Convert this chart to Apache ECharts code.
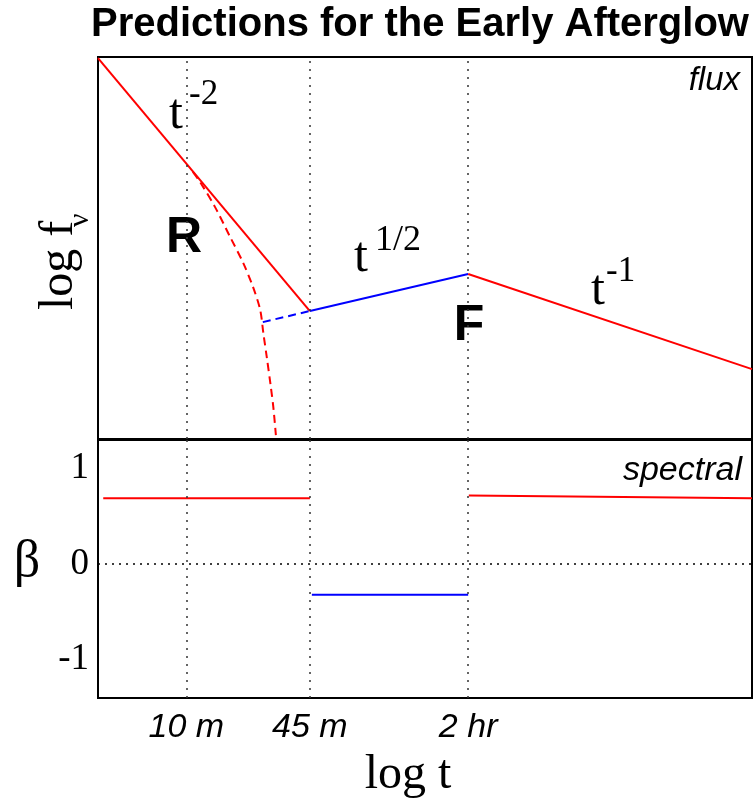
<!DOCTYPE html>
<html>
<head>
<meta charset="utf-8">
<script src="https://cdn.jsdelivr.net/npm/echarts@6/dist/echarts.min.js"></script>
<style>
  html, body { margin: 0; padding: 0; background: #fff; }
  #chart { width: 755px; height: 802px; }
</style>
</head>
<body>
<div id="chart"></div>
<script>
(function () {
  // log t runs 0..100 across the panels (schematic), log f runs 0..100
  const tickValues = [13.5, 32.4, 56.6]
  const tickLabels = ['10 m', '45 m', '2 hr']
  const betaTicks = [-1, 0, 1]

  const fluxEarly = [[0, 99.7], [32.4, 33.5]]
  const fluxRise = [[32.4, 33.5], [56.6, 43.2]]
  const fluxLate = [[56.6, 43.2], [100, 18.3]]
  const reverseShock = [[14.5, 69.9], [15.6, 67.3], [17.9, 60.7], [20.2, 52.9], [22.2, 46.1], [23.7, 39.8],
    [24.8, 33.8], [25.3, 27.5], [25.8, 21.5], [26.4, 14.0], [26.8, 8.5], [27.2, 1.0]]
  const riseBack = [[25.2, 30.6], [32.4, 33.5]]

  const betaEarly = [[0.8, 0.69], [32.4, 0.69]]
  const betaRise = [[32.7, -0.32], [56.6, -0.32]]
  const betaLate = [[56.7, 0.72], [100, 0.69]]

  const RED = '#ff0000'
  const BLUE = '#0000ff'
  const SERIF = "'Liberation Serif', 'DejaVu Serif', serif"
  const SANS = "'Liberation Sans', Arial, sans-serif"
  const NARROW = "'Liberation Sans Narrow', 'Liberation Sans', sans-serif"

  function line(name, data, color, xi, dashed) {
    return {
      name,
      type: 'line',
      xAxisIndex: xi,
      yAxisIndex: xi,
      data,
      showSymbol: false,
      symbol: 'none',
      smooth: dashed === 'curve' ? 0.3 : false,
      lineStyle: { color, width: 2, type: dashed ? [8, 5] : 'solid' }
    }
  }

  function guides(xi, withZero) {
    const data = tickValues.map((v) => ({ xAxis: v }))
    const s = {
      type: 'line',
      xAxisIndex: xi,
      yAxisIndex: xi,
      data: [],
      markLine: {
        silent: true,
        symbol: 'none',
        label: { show: false },
        lineStyle: { color: '#333', width: 1.5, type: [2, 6] },
        data
      }
    }
    if (withZero) {
      s.markLine.data = data.concat([{ yAxis: 0, lineStyle: { color: '#000', type: [2, 5] } }])
    }
    return s
  }

  function txt(text, x, y, font, opts) {
    return Object.assign({
      type: 'text',
      x,
      y,
      silent: true,
      style: Object.assign({
        text,
        font,
        fill: '#000',
        align: 'left',
        verticalAlign: 'middle'
      }, opts && opts.style)
    }, opts && opts.el)
  }

  const chart = echarts.init(document.getElementById('chart'), null, { renderer: 'canvas' })

  chart.setOption({
    animation: false,
    backgroundColor: '#fff',
    grid: [
      { left: 98, right: 3, top: 57, bottom: 363, show: true, borderColor: '#000', borderWidth: 2 },
      { left: 98, right: 3, top: 440, bottom: 104, show: true, borderColor: '#000', borderWidth: 2 }
    ],
    xAxis: [
      {
        gridIndex: 0, type: 'value', min: 0, max: 100,
        axisLine: { show: false }, axisTick: { show: false }, axisLabel: { show: false }, splitLine: { show: false }
      },
      {
        gridIndex: 1, type: 'value', min: 0, max: 100,
        axisLine: { show: false }, axisTick: { show: false }, splitLine: { show: false },
        axisLabel: {
          customValues: tickValues,
          formatter: (v) => {
            const i = tickValues.findIndex((t) => Math.abs(t - v) < 1e-6)
            return i >= 0 ? tickLabels[i] : ''
          },
          margin: 13,
          fontFamily: NARROW,
          fontStyle: 'italic',
          fontSize: 34,
          color: '#000'
        }
      }
    ],
    yAxis: [
      {
        gridIndex: 0, type: 'value', min: 0, max: 100,
        axisLine: { show: false }, axisTick: { show: false }, axisLabel: { show: false }, splitLine: { show: false }
      },
      {
        gridIndex: 1, type: 'value', min: -1.4, max: 1.3,
        axisLine: { show: false }, axisTick: { show: false }, splitLine: { show: false },
        axisLabel: {
          customValues: betaTicks,
          formatter: (v) => String(v),
          margin: 9,
          fontFamily: SERIF,
          fontSize: 37,
          color: '#000'
        }
      }
    ],
    series: [
      guides(0, false),
      guides(1, true),
      line('fluxEarly', fluxEarly, RED, 0),
      line('fluxRise', fluxRise, BLUE, 0),
      line('fluxLate', fluxLate, RED, 0),
      line('reverseShock', reverseShock, RED, 0, 'curve'),
      line('riseBack', riseBack, BLUE, 0, true),
      line('betaEarly', betaEarly, RED, 1),
      line('betaRise', betaRise, BLUE, 1),
      line('betaLate', betaLate, RED, 1)
    ],
    graphic: [
      txt('Predictions for the Early Afterglow', 420, 25, `bold 40px ${SANS}`, { style: { align: 'center' } }),
      txt('flux', 740, 81, `italic 33px ${NARROW}`, { style: { align: 'right' } }),
      txt('spectral', 742, 471, `italic 34px ${NARROW}`, { style: { align: 'right' } }),
      txt('R', 184, 238, `bold 50px ${NARROW}`, { style: { align: 'center' } }),
      txt('F', 469, 326, `bold 50px ${NARROW}`, { style: { align: 'center' } }),
      txt('t', 169, 115, `50px ${SERIF}`),
      txt('-2', 189, 95, `35px ${SERIF}`),
      txt('t', 354, 258, `50px ${SERIF}`),
      txt('1/2', 375, 241, `36px ${SERIF}`),
      txt('t', 591, 291, `50px ${SERIF}`),
      txt('-1', 606, 272, `35px ${SERIF}`),
      txt('log f', 59, 310, `48px ${SERIF}`, { el: { rotation: Math.PI / 2 } }),
      txt('\u03bd', 80, 227, `30px ${SERIF}`, { el: { rotation: Math.PI / 2 } }),
      txt('\u03b2', 27, 562, `52px ${SERIF}`, { style: { align: 'center' } }),
      txt('log t', 408, 775, `48px ${SERIF}`, { style: { align: 'center' } })
    ]
  })

  window.addEventListener('resize', () => chart.resize())
})()
</script>
</body>
</html>
